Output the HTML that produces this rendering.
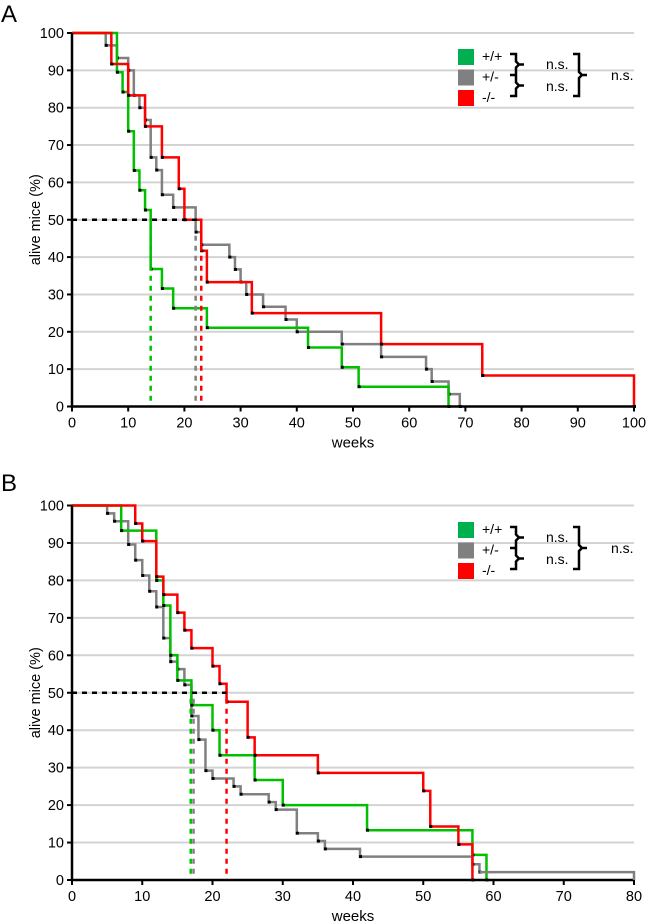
<!DOCTYPE html>
<html><head><meta charset="utf-8"><style>
body{margin:0;background:#fff;}
svg{display:block;font-family:"Liberation Sans",Arial,sans-serif;}
</style></head><body>
<svg id="s" width="646" height="922" viewBox="0 0 646 922"></svg>
<script>
// Panel A data (weeks, survival %)
const aRedX=[7,10,13,16,19,20,23,24,32,55,73,100];
const aRedY=[91.7,83.3,75,66.7,58.3,50,41.7,33.3,25,16.7,8.3,0];
const aGrayX=[6,8,10,11,12,13,14,15,16,18,22,23,28,29,30,31,34,38,40,48,55,63,64,67,69];
const aGrayY=[96.7,93.3,90,83.3,80,76.7,66.7,63.3,56.7,53.3,46.7,43.3,40,36.7,33.3,30,26.7,23.3,20,16.7,13.3,10,6.7,3.3,0];
const aGreenX=[8,9,10,11,12,13,14,16,18,24,42,48,51,67];
const aGreenY=[89.5,84.2,73.7,63.2,57.9,52.6,36.8,31.6,26.3,21.1,15.8,10.5,5.3,0];
const aMedians=[14,22,23];
// Panel B data
const bRedX=[9,10,12,13,15,16,17,20,21,22,25,26,35,50,51,55,57];
const bRedY=[95.2,90.5,81,76.2,71.4,66.7,61.9,57.1,52.4,47.6,38.1,33.3,28.6,23.8,14.3,9.5,0];
const bGrayX=[5,6,8,9,10,11,12,13,14,15,16,17,18,19,20,23,24,28,29,32,35,36,41,57,58];
const bGrayY=[97.9,95.8,89.6,85.4,81.3,77.1,72.9,64.6,58.3,56.3,52.1,43.8,37.5,29.2,27.1,25,22.9,20.8,18.8,12.5,10.4,8.3,6.25,4.2,2.1];
const bGreenX=[7,12,13,14,15,17,20,21,26,30,42,57,59];
const bGreenY=[93.3,80,73.3,60,53.3,46.7,40,33.3,26.7,20,13.3,6.7,0];
const bMedians=[16.9,17.3,22];
const aTicksX=[0,10,20,30,40,50,60,70,80,90,100];
const bTicksX=[0,10,20,30,40,50,60,70,80];
const ticksY=[0,10,20,30,40,50,60,70,80,90,100];

const NS="http://www.w3.org/2000/svg";
const svg=document.getElementById('s');
function el(tag,attrs,parent){const e=document.createElementNS(NS,tag);for(const k in attrs)e.setAttribute(k,attrs[k]);(parent||svg).appendChild(e);return e;}
const GREEN='#00c000',GRAY='#808080',RED='#ff0000';

function panel(P){
  const g=el('g',{});
  
  
  const sx=v=>P.x0+(v/P.xmax)*(P.x1-P.x0);
  const sy=v=>P.y0-(v/100)*(P.y0-P.y1);
  ticksY.forEach(t=>{if(t===0)return;const l=el('line',{x1:P.x0,x2:P.x1,y1:sy(t),y2:sy(t),stroke:'#d3d3d3','stroke-width':2},g);
    });
  function curve(xs,ys,color,name,endX){
    let d='M'+sx(0)+','+sy(100);let prev=100;
    xs.forEach((x,i)=>{d+=' H'+sx(x)+' V'+sy(ys[i]);prev=ys[i];});
    if(endX!==undefined&&prev>0)d+=' H'+sx(endX)+' V'+sy(0);
    const p=el('path',{d:d,fill:'none',stroke:color,'stroke-width':2.5},g);
    
    xs.forEach((x,i)=>{const r=el('rect',{x:sx(x)-1,y:sy(ys[i])-1.5,width:3,height:3,fill:'#000'},g);
      });
  }
  curve(P.gray[0],P.gray[1],GRAY,'het');
  curve(P.green[0],P.green[1],GREEN,'wt');
  curve(P.red[0],P.red[1],RED,'ko',P.redEnd);
  const mx=Math.max(...P.med);
  const h=el('line',{x1:P.x0,x2:sx(mx),y1:sy(50),y2:sy(50),stroke:'#000','stroke-width':2.5,'stroke-dasharray':'5,5'},g);
  
  [GREEN,GRAY,RED].forEach((c,i)=>{const v=el('line',{x1:sx(P.med[i]),x2:sx(P.med[i]),y1:sy(50)+6,y2:sy(0)-2,stroke:c,'stroke-width':2.5,'stroke-dasharray':'5,5'},g);
    });
  const ax=el('path',{d:`M${P.x0},${P.y1} V${P.y0} H${P.x1}`,fill:'none',stroke:'#000','stroke-width':2.5},g);
  
  ticksY.forEach(t=>{el('line',{x1:P.x0-5,x2:P.x0,y1:sy(t),y2:sy(t),stroke:'#000','stroke-width':2},g);
    const tx=el('text',{x:P.x0-8,y:sy(t)+5,'text-anchor':'end','font-size':14.5},g);tx.textContent=t;
    });
  P.ticksX.forEach(t=>{el('line',{x1:sx(t),x2:sx(t),y1:P.y0,y2:P.y0+5,stroke:'#000','stroke-width':2},g);
    const tx=el('text',{x:sx(t),y:P.y0+21,'text-anchor':'middle','font-size':14.5},g);tx.textContent=t;
    });
  const xt=el('text',{x:(P.x0+P.x1)/2,y:P.y0+41,'text-anchor':'middle','font-size':15},g);xt.textContent='weeks';
  
  const cy=(P.y0+P.y1)/2;
  const yt=el('text',{x:40,y:cy,'text-anchor':'middle','font-size':14.5,transform:`rotate(-90 40 ${cy})`},g);yt.textContent='alive mice (%)';
  
  const pl=el('text',{x:1,y:P.labelY,'font-size':24},g);pl.textContent=P.id;
  
  const ly=P.legY;
  const lg=el('g',{},g);
  [[GREEN,'+/+','#00b050'],[GRAY,'+/-','#808080'],[RED,'-/-','#ff0000']].forEach((e,i)=>{
    const r=el('rect',{x:458,y:ly+i*20.5,width:16,height:16,fill:e[2]},lg);
    
    const t=el('text',{x:482,y:ly+i*20.5+12,'font-size':14},lg);t.textContent=e[1];
    });
  const br=(x,y1,y2)=>{const m=(y1+y2)/2;return `M${x},${y1} h6 v${m-y1-3} l3,3 h5 M${x+9},${m} l-3,3 v${y2-m-3} h-6`;};
  const b=el('path',{d:br(510,ly+5,ly+26)+' '+br(510,ly+26,ly+47),fill:'none',stroke:'#000','stroke-width':2.5},lg);
  
  const b2=el('path',{d:br(573,ly+5,ly+47),fill:'none',stroke:'#000','stroke-width':2.5},lg);
  
  [[546,ly+20],[546,ly+42],[611,ly+31]].forEach(p=>{const t=el('text',{x:p[0],y:p[1],'font-size':14},lg);t.textContent='n.s.';
    });
}
panel({id:'A',x0:72,x1:634,y0:406.5,y1:33,xmax:100,ticksX:aTicksX,labelY:22,legY:49,
  red:[aRedX,aRedY],gray:[aGrayX,aGrayY],green:[aGreenX,aGreenY],med:aMedians});
panel({id:'B',x0:72,x1:634,y0:880,y1:505.5,xmax:80,ticksX:bTicksX,labelY:491,legY:522,
  red:[bRedX,bRedY],gray:[bGrayX,bGrayY],green:[bGreenX,bGreenY],med:bMedians});
(function(){const x0=72,x1=634,y0=880,y1=505.5;const sx=v=>x0+v/80*(x1-x0),sy=v=>y0-v/100*(y0-y1);
 const p=el('path',{d:`M${sx(58)},${sy(2.1)} H${sx(80)} V${sy(0)}`,fill:'none',stroke:GRAY,'stroke-width':2.5});
 })();
</script>
</body></html>
